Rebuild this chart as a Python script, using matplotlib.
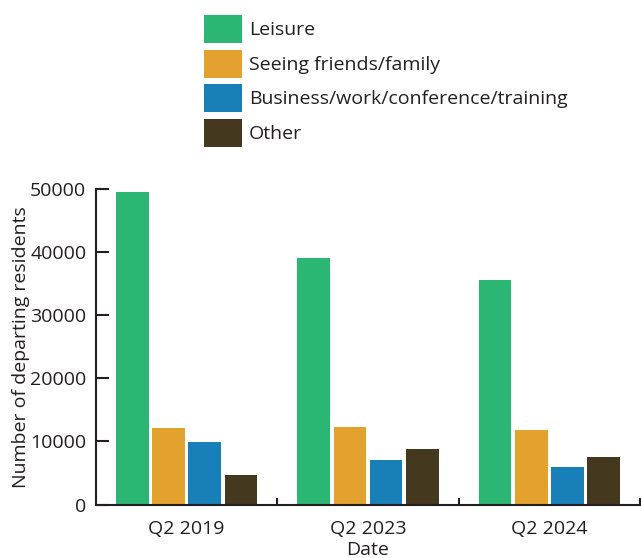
import matplotlib
matplotlib.use("Agg")
import matplotlib.pyplot as plt
import numpy as np

dates = ["Q2 2019", "Q2 2023", "Q2 2024"]
series_names = ["Leisure", "Seeing friends/family",
                "Business/work/conference/training", "Other"]
leisure = [49600, 39000, 35600]
friends = [12100, 12300, 11800]
business = [9900, 7050, 5950]
other = [4600, 8800, 7500]
yticks = [0, 10000, 20000, 30000, 40000, 50000]

colors = ["#2bb673", "#e3a12e", "#187fb8", "#44391e"]
text_color = "#231f20"

plt.rcParams["font.family"] = ["Open Sans", "DejaVu Sans"]
plt.rcParams["text.color"] = text_color

fig = plt.figure(figsize=(6.41, 5.58), dpi=100)
ax = fig.add_axes([96 / 641, 1 - 504.5 / 558, 544 / 641, (504.5 - 189) / 558])

x = np.arange(len(dates))
slot = 0.2
width = 0.18
all_series = [leisure, friends, business, other]
handles = []
for i, (vals, name, c) in enumerate(zip(all_series, series_names, colors)):
    h = ax.bar(x + (i - 1.5) * slot, vals, width=width, color=c, label=name)
    handles.append(h)

ax.set_xlim(-0.5, 2.5)
ax.set_ylim(0, 50000)
ax.set_yticks(yticks)
ax.set_yticklabels([str(v) for v in yticks])
ax.set_xticks(x)
ax.set_xticklabels(dates)
ax.set_xticks([0.5, 1.5, 2.5], minor=True)

for s in ["top", "right"]:
    ax.spines[s].set_visible(False)
for s in ["left", "bottom"]:
    ax.spines[s].set_linewidth(1.5)
    ax.spines[s].set_color(text_color)

fs = 14
ax.tick_params(axis="y", direction="in", length=9.6, width=1.5, color=text_color,
               labelsize=fs, labelcolor=text_color, pad=7)
ax.tick_params(axis="x", which="major", length=0, labelsize=fs,
               labelcolor=text_color, pad=11)
ax.tick_params(axis="x", which="minor", direction="in", length=5, width=1.5,
               color=text_color)

ax.set_ylabel("Number of departing residents", fontsize=fs, color=text_color, labelpad=0)
ax.set_xlabel("Date", fontsize=fs, color=text_color, labelpad=2.5)

fig.legend(handles=handles, labels=series_names, loc="upper left",
           bbox_to_anchor=(204 / 641, 1 - 15 / 558), frameon=False,
           fontsize=fs, handlelength=1.96, handleheight=1.85,
           handletextpad=0.36, labelspacing=0.33, borderpad=0, borderaxespad=0)

fig.savefig("out.png", dpi=100)
